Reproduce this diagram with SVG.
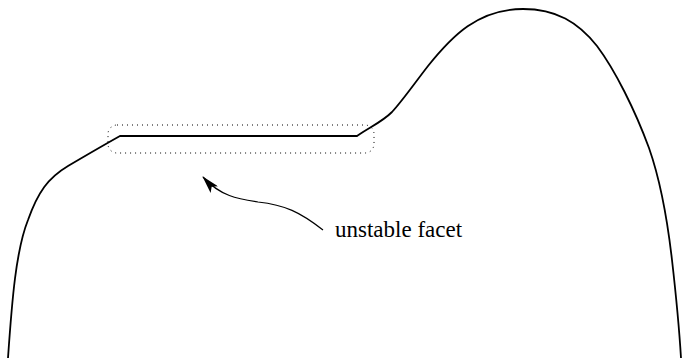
<svg xmlns="http://www.w3.org/2000/svg" width="683" height="363" viewBox="0 0 683 363">
<style>
.curve{fill:none;stroke:#000;stroke-width:1.8}
.box{fill:none;stroke:#000;stroke-width:1;stroke-dasharray:1 4}
.conn{fill:none;stroke:#000;stroke-width:1.2}
.lbl{font-family:"Liberation Serif","Times New Roman",serif;font-size:23px;fill:#000}
</style>
<defs>
<marker id="ah" viewBox="0 0 18 10" refX="17" refY="5" markerWidth="18" markerHeight="10" markerUnits="userSpaceOnUse" orient="auto">
<path d="M0,0 L18,5 L0,10 L4,5 Z" fill="#000"/>
</marker>
</defs>
<rect width="683" height="363" fill="#fff"/>
<g id="profile">
<path class="curve" d="M8,358 C12,300 16,250 28,220 C38,192 48,178 68,166 C85,156 102,146 120,136 L357,136 C370,127 382,122 392,112 C403,100 414,84 428,66 C452,36 478,9 523,9 C556,9 578,22 597,46 C615,70 635,110 649,148 C662,185 668,225 672,260 C676,295 679,325 681,358"/>
</g>
<g id="facet">
<rect class="box" x="108" y="125" width="266" height="28" rx="9" ry="9"/>
</g>
<g id="label">
<text class="lbl" x="335" y="237">unstable facet</text>
</g>
<g id="connectors">
<path class="conn" marker-end="url(#ah)" d="M323,230 C300,212 285,205 258,202 C238,199 220,196 203,177"/>
</g>
</svg>
